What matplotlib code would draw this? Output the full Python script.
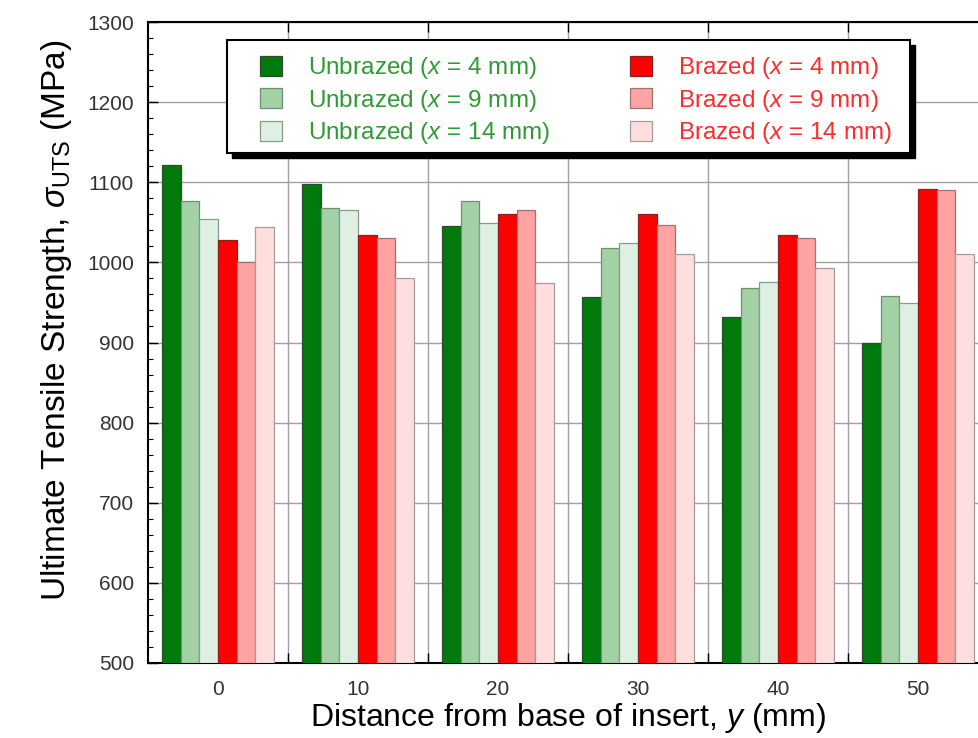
import matplotlib
matplotlib.use("Agg")
import matplotlib.pyplot as plt
import numpy as np
from matplotlib.ticker import MultipleLocator
from matplotlib.patches import Rectangle

plt.rcParams['font.family'] = ['Liberation Sans', 'DejaVu Sans']
plt.rcParams['mathtext.fontset'] = 'custom'
plt.rcParams['mathtext.rm'] = 'Liberation Sans'
plt.rcParams['mathtext.it'] = 'Liberation Sans:italic'
plt.rcParams['mathtext.sf'] = 'Liberation Sans'

# Data
positions = [0, 10, 20, 30, 40, 50]
tick_labels = ['0', '10', '20', '30', '40', '50']
series_names = [r'Unbrazed ($x$ = 4 mm)', r'Unbrazed ($x$ = 9 mm)', r'Unbrazed ($x$ = 14 mm)',
                r'Brazed ($x$ = 4 mm)', r'Brazed ($x$ = 9 mm)', r'Brazed ($x$ = 14 mm)']
unbrazed_4 = [1122, 1098, 1046, 957, 932, 900]
unbrazed_9 = [1076, 1068, 1076, 1018, 968, 958]
unbrazed_14 = [1054, 1065, 1049, 1024, 976, 949]
brazed_4 = [1028, 1034, 1060, 1060, 1034, 1091]
brazed_9 = [1000, 1031, 1065, 1047, 1031, 1090]
brazed_14 = [1044, 980, 974, 1011, 993, 1011]
series = [unbrazed_4, unbrazed_9, unbrazed_14, brazed_4, brazed_9, brazed_14]

colors = ['#007a0c', '#a2d1a6', '#ddf0e1', '#ff0000', '#ffa3a3', '#ffdede']
edges = ['#2f4a2f', '#6f8f72', '#8a9a8c', '#8a2020', '#a07070', '#a89a9a']
text_colors = ['#2e9a35'] * 3 + ['#ff2a2a'] * 3

fig = plt.figure(figsize=(9.79, 7.38), dpi=100)
ax = fig.add_axes([148 / 979, 75 / 738, 840 / 979, 641 / 738])

w = 1.333
pos = np.array(positions, dtype=float)
handles = []
for i, (vals, c, ec) in enumerate(zip(series, colors, edges)):
    b = ax.bar(pos + (i - 2.5) * w, np.array(vals) - 500, bottom=500, width=w,
               color=c, edgecolor=ec, linewidth=0.9, zorder=3, label=series_names[i])
    handles.append(b)

ax.set_xlim(-5, 55)
ax.set_ylim(500, 1300)

# y ticks
ax.yaxis.set_major_locator(MultipleLocator(100))
ax.yaxis.set_minor_locator(MultipleLocator(20))
# x: major ticks at group boundaries (no labels), minor at centers with labels
ax.set_xticks([5, 15, 25, 35, 45])
ax.set_xticklabels([])
ax.set_xticks(positions, minor=True)
ax.set_xticklabels(tick_labels, minor=True)

ax.tick_params(axis='both', which='major', direction='in', length=7, width=1.0,
               top=True, right=True, colors='black')
ax.tick_params(axis='y', which='minor', direction='in', length=3.5, width=0.8,
               left=True, right=True)
ax.tick_params(axis='x', which='minor', length=0, pad=12, labelsize=15, labelcolor='#333333')
ax.tick_params(axis='y', which='major', pad=10, labelsize=15, labelcolor='#333333')

ax.grid(True, which='major', color='#a0a0a0', linewidth=1.0, zorder=0)
ax.set_axisbelow(True)
for s in ax.spines.values():
    s.set_linewidth(1.5)

ax.set_xlabel(r'Distance from base of insert, $y$ (mm)', fontsize=23, labelpad=2)
ax.set_ylabel(r'Ultimate Tensile Strength, $\sigma_{\rm UTS}$ (MPa)', fontsize=24)
ax.yaxis.set_label_coords(-0.088, 0.535)

# Legend frame drawn manually (with solid black shadow)
def ax_frac(px, py):
    return (px - 148) / 840, (663 - py) / 641

fx0, fy1 = ax_frac(227, 40)
fx1, fy0 = ax_frac(910, 153)
sdx, sdy = 5 / 840, 5 / 641
shadow = Rectangle((fx0 + sdx, fy0 - sdy), fx1 - fx0, fy1 - fy0, transform=ax.transAxes,
                   facecolor='black', edgecolor='black', zorder=8, clip_on=False)
frame = Rectangle((fx0, fy0), fx1 - fx0, fy1 - fy0, transform=ax.transAxes,
                  facecolor='white', edgecolor='black', linewidth=1.5, zorder=9, clip_on=False)
ax.add_patch(shadow)
ax.add_patch(frame)

ax_x, ax_y = ax_frac(260, 55)
leg = ax.legend(handles=handles, ncol=2, loc='upper left',
                bbox_to_anchor=(ax_x, ax_y), fontsize=17.5,
                frameon=False,
                handlelength=0.9, handleheight=0.9, handletextpad=1.07,
                columnspacing=3.3, labelspacing=0.27, borderpad=0, borderaxespad=0)
for t, c in zip(leg.get_texts(), text_colors):
    t.set_color(c)
leg.set_zorder(10)

fig.savefig('out.png', dpi=100)
